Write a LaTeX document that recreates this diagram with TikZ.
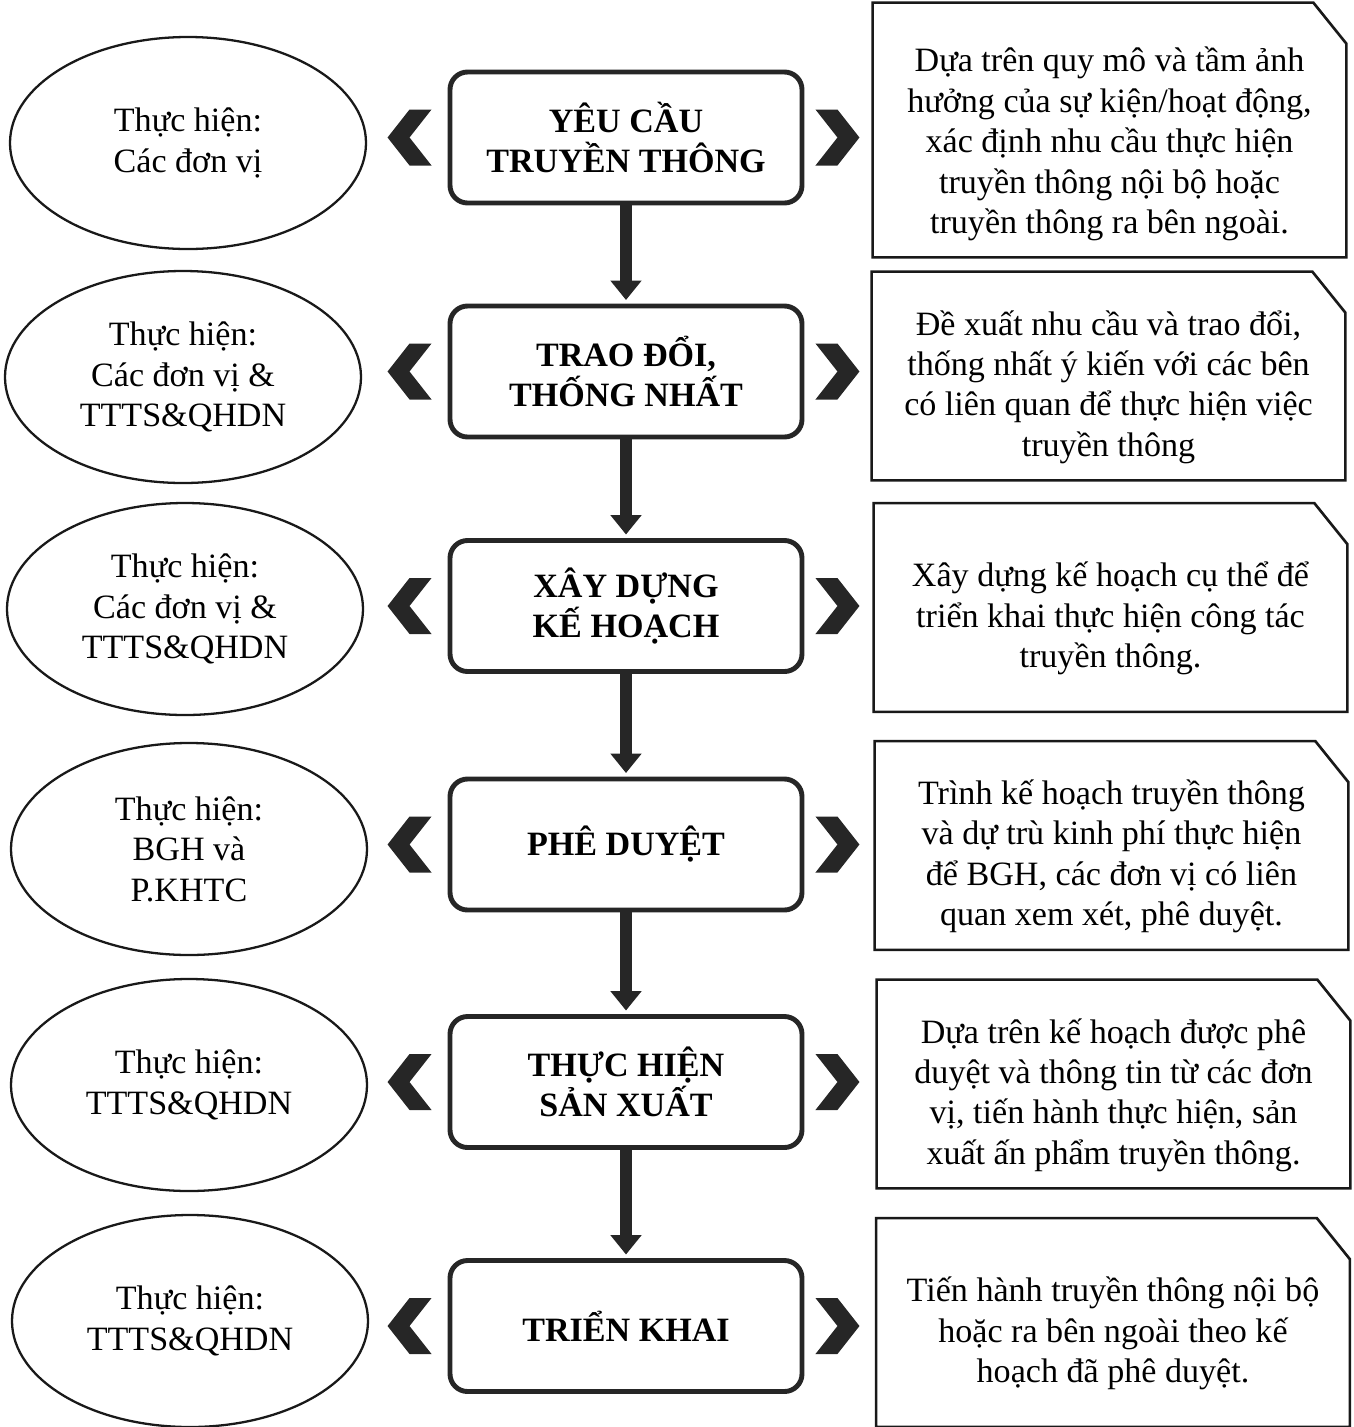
\documentclass[tikz,border=0pt]{standalone}
\usepackage{fontspec}
\setmainfont{Liberation Serif}
\usetikzlibrary{arrows.meta,shapes.geometric}

\begin{document}
\begin{tikzpicture}[
  stepbox/.style={
    minimum width=7.04cm, minimum height=2.62cm,
    draw=black!85, line width=2.8pt, rounded corners=10pt,
    align=center, font=\fontsize{19.4}{23}\selectfont\bfseries
  },
  actor/.style={
    ellipse, minimum width=7.12cm, minimum height=4.24cm,
    draw=black!90, line width=1.3pt, inner sep=0pt,
    align=center, font=\fontsize{19.4}{23}\selectfont
  },
  note/.style={
    minimum width=9.46cm, minimum height=4.16cm,
    align=center, font=\fontsize{19.4}{23}\selectfont
  },
  frame/.style={draw=black!90, line width=1.5pt},
  flow/.style={
    draw=black!85, line width=6.5pt,
    -{Triangle[width=17pt,length=11pt]}, shorten >=2pt
  },
  chev/.style={fill=black!85}
]
\useasboundingbox (0,0) rectangle (27.08,-28.54);

% ================= LANGKAH =================
\node[stepbox] (box1) at (12.52,-2.75)  {YÊU CẦU\\TRUYỀN THÔNG};
\node[stepbox] (box2) at (12.52,-7.43)  {TRAO ĐỔI,\\THỐNG NHẤT};
\node[stepbox] (box3) at (12.52,-12.12) {XÂY DỰNG\\KẾ HOẠCH};
\node[stepbox] (box4) at (12.52,-16.89) {PHÊ DUYỆT};
\node[stepbox] (box5) at (12.52,-21.64) {THỰC HIỆN\\SẢN XUẤT};
\node[stepbox] (box6) at (12.52,-26.52) {TRIỂN KHAI};

\foreach \a/\b in {1/2,2/3,3/4,4/5,5/6}
  \draw[flow] (box\a) -- (box\b);

% ================= PELAKSANA =================
\node[actor] (act1) at (3.76,-2.86)  {Thực hiện:\\Các đơn vị};
\node[actor] (act2) at (3.66,-7.54)  {Thực hiện:\\Các đơn vị \&\\TTTS\&QHDN};
\node[actor] (act3) at (3.70,-12.18) {Thực hiện:\\Các đơn vị \&\\TTTS\&QHDN};
\node[actor] (act4) at (3.78,-16.98) {Thực hiện:\\BGH và\\P.KHTC};
\node[actor] (act5) at (3.78,-21.70) {Thực hiện:\\TTTS\&QHDN};
\node[actor] (act6) at (3.80,-26.42) {Thực hiện:\\TTTS\&QHDN};

% ================= KETERANGAN =================
\node[note, minimum height=5.08cm] (note1) at (22.19,-2.88)
  {Dựa trên quy mô và tầm ảnh\\hưởng của sự kiện/hoạt động,\\xác định nhu cầu thực hiện\\truyền thông nội bộ hoặc\\truyền thông ra bên ngoài.};
\node[note] (note2) at (22.17,-7.74)
  {Đề xuất nhu cầu và trao đổi,\\thống nhất ý kiến với các bên\\có liên quan để thực hiện việc\\truyền thông};
\node[note] (note3) at (22.21,-12.37)
  {Xây dựng kế hoạch cụ thể để\\triển khai thực hiện công tác\\truyền thông.};
\node[note] (note4) at (22.23,-17.13)
  {Trình kế hoạch truyền thông\\và dự trù kinh phí thực hiện\\để BGH, các đơn vị có liên\\quan xem xét, phê duyệt.};
\node[note] (note5) at (22.27,-21.90)
  {Dựa trên kế hoạch được phê\\duyệt và thông tin từ các đơn\\vị, tiến hành thực hiện, sản\\xuất ấn phẩm truyền thông.};
\node[note] (note6) at (22.26,-26.67)
  {Tiến hành truyền thông nội bộ\\hoặc ra bên ngoài theo kế\\hoạch đã phê duyệt.};

% bingkai sudut terpotong
\draw[frame] ([yshift=0.28cm]note1.south west) -- ([yshift=0.28cm]note1.north west)
  -- ([xshift=-0.66cm,yshift=0.28cm]note1.north east)
  -- ([yshift=-0.54cm]note1.north east)
  -- ([yshift=0.28cm]note1.south east) -- cycle;
\foreach \i in {2,...,6}
  \draw[frame] ([yshift=0.22cm]note\i.south west) -- ([yshift=0.22cm]note\i.north west)
    -- ([xshift=-0.66cm,yshift=0.22cm]note\i.north east)
    -- ([yshift=-0.6cm]note\i.north east)
    -- ([yshift=0.22cm]note\i.south east) -- cycle;

% ================= CHEVRON =================
\foreach \i in {1,...,6}{
  % kiri
  \fill[chev] ([xshift=-0.32cm,yshift=0.56cm]box\i.west) -- ++(-0.44,0) -- ++(-0.44,-0.56)
    -- ++(0.44,-0.56) -- ++(0.44,0) -- ++(-0.44,0.56) -- cycle;
  % kanan
  \fill[chev] ([xshift=0.22cm,yshift=0.56cm]box\i.east) -- ++(0.44,0) -- ++(0.44,-0.56)
    -- ++(-0.44,-0.56) -- ++(-0.44,0) -- ++(0.44,0.56) -- cycle;
}

\end{tikzpicture}
\end{document}
